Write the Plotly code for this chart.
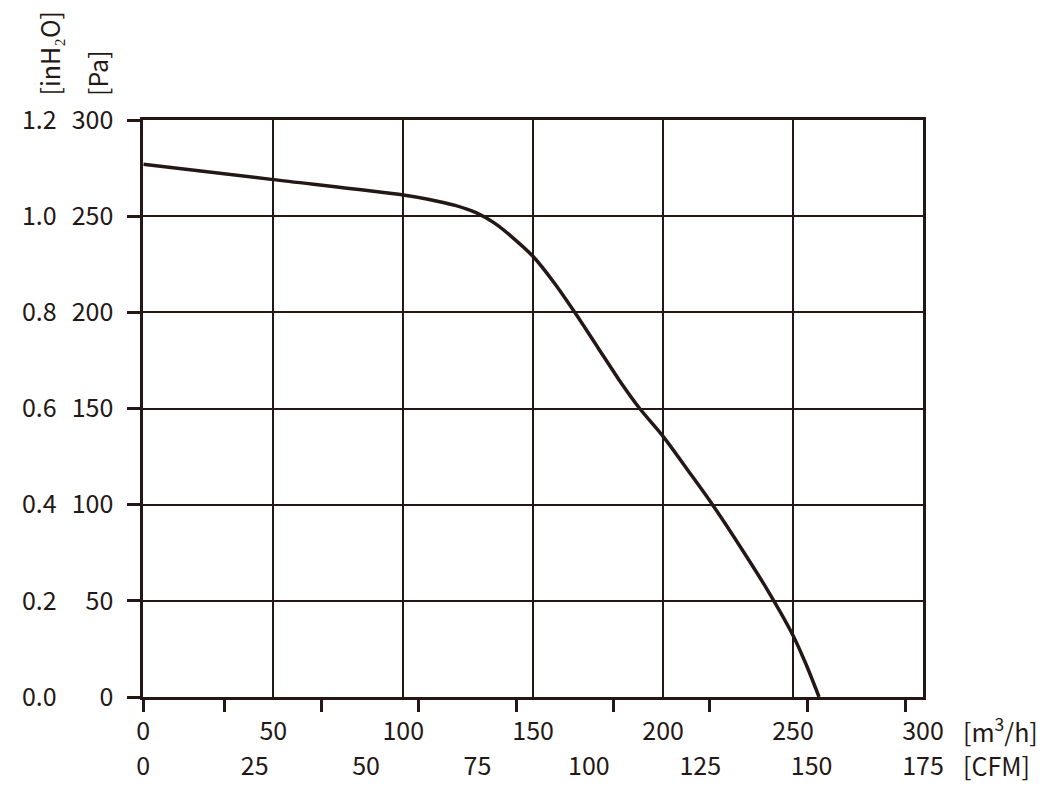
import plotly.graph_objects as go

# Data
flow_m3h = [0, 50, 100, 110, 120, 128, 135, 142, 150, 158, 166, 175, 183, 191,
            200, 210, 219, 230, 240, 250, 255, 260]
pressure_pa = [277, 269, 261, 258.7, 255.6, 251.8, 246.5, 239, 229, 215.5, 200, 181.5, 165, 150,
               135.5, 117, 100, 77.5, 56, 32, 17, 0]

m3h_ticks = [0, 50, 100, 150, 200, 250, 300]
cfm_ticks = [0, 25, 50, 75, 100, 125, 150, 175]
pa_ticks = [0, 50, 100, 150, 200, 250, 300]
inh2o_ticks = [0.0, 0.2, 0.4, 0.6, 0.8, 1.0, 1.2]
inh2o_labels = ["0.0", "0.2", "0.4", "0.6", "0.8", "1.0", "1.2"]
bottom_tick_marks = [0, 31.2, 68.4, 105.9, 143.4, 181, 218, 255.6, 293.1]

INK = "#231815"
FONT = "Noto Sans CJK JP"
FS = 25

# figure coordinates (page is offset by 8px body margin)
L, R, T, B = 20, 135, 112, 115
PW = 1050 - L - R
PH = 804 - T - B
PLOT_X0 = 135.3
dom_x0 = (PLOT_X0 - L) / PW


def px(xf):
    return (xf - 8 - L) / PW


def py(yf):
    return (804 - B - (yf - 8)) / PH


fig = go.Figure()
fig.add_trace(go.Scatter(
    x=flow_m3h, y=pressure_pa, mode="lines",
    line=dict(color=INK, width=3.5, shape="spline", smoothing=0.8),
    showlegend=False, hoverinfo="skip",
))
fig.add_trace(go.Scatter(x=[None], y=[None], xaxis="x2", yaxis="y", showlegend=False))
fig.add_trace(go.Scatter(x=[None], y=[None], xaxis="x3", yaxis="y", showlegend=False))
fig.add_trace(go.Scatter(x=[None], y=[None], xaxis="x", yaxis="y2", showlegend=False))

fig.update_layout(
    width=1050, height=804,
    margin=dict(l=L, r=R, t=T, b=B),
    paper_bgcolor="white", plot_bgcolor="white",
    font=dict(family=FONT, size=FS, color=INK),
    xaxis=dict(
        domain=[dom_x0, 1], range=[0, 300], tickvals=m3h_ticks,
        showgrid=True, gridcolor=INK, gridwidth=1.5,
        showline=True, linecolor=INK, linewidth=3, mirror=True,
        ticks="", ticklabelstandoff=10, zeroline=False,
    ),
    xaxis2=dict(
        overlaying="x", anchor="y", side="bottom", domain=[dom_x0, 1],
        range=[0, 175], tickvals=cfm_ticks, showgrid=False, showline=False,
        ticks="", ticklabelstandoff=52, zeroline=False,
    ),
    xaxis3=dict(
        overlaying="x", anchor="y", side="bottom", domain=[dom_x0, 1],
        range=[0, 300], tickvals=bottom_tick_marks, showticklabels=False,
        showgrid=False, showline=False, ticks="outside", ticklen=14,
        tickwidth=3, tickcolor=INK, zeroline=False,
    ),
    yaxis=dict(
        range=[0, 300], tickvals=pa_ticks,
        showgrid=True, gridcolor=INK, gridwidth=1.5,
        showline=True, linecolor=INK, linewidth=3, mirror=True,
        ticks="outside", ticklen=13, tickwidth=3, tickcolor=INK,
        ticklabelstandoff=9, zeroline=False,
    ),
    yaxis2=dict(
        overlaying="y", anchor="free", side="left", position=0.032,
        range=[0, 1.2], tickvals=inh2o_ticks, ticktext=inh2o_labels,
        showgrid=False, showline=False, ticks="", zeroline=False,
    ),
    annotations=[
        dict(text="[Pa]", xref="paper", yref="paper", x=px(97), y=py(98),
             xanchor="center", yanchor="bottom", textangle=-90, showarrow=False,
             font=dict(family=FONT, size=FS, color=INK)),
        dict(text="[inH₂O]", xref="paper", yref="paper", x=px(48), y=py(98),
             xanchor="center", yanchor="bottom", textangle=-90, showarrow=False,
             font=dict(family=FONT, size=FS, color=INK)),
        dict(text="[m<sup>3</sup>/h]", xref="paper", yref="paper", x=px(961),
             y=py(730), xanchor="left", yanchor="middle", showarrow=False,
             font=dict(family=FONT, size=FS, color=INK)),
        dict(text="[CFM]", xref="paper", yref="paper", x=px(961),
             y=py(765), xanchor="left", yanchor="middle", showarrow=False,
             font=dict(family=FONT, size=FS, color=INK)),
    ],
)

fig.write_html("out.html")
